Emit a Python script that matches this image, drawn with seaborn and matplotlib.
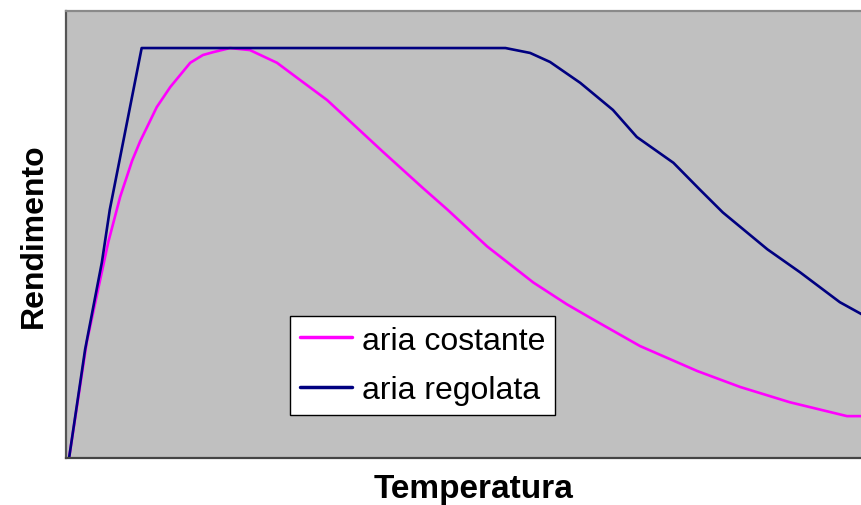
import pandas as pd
import seaborn as sns
import matplotlib.pyplot as plt

# curve values (temperature 0-100, efficiency with plateau = 100)
temp_costante = [0.4, 2.6, 5.3, 6.8, 8.3, 9.3, 11.4, 13.1, 15.6, 17.2, 18.5, 20.6, 23.1,
                 26.5, 29.4, 32.8, 37.8, 39.8, 44.8, 47.9, 52.9, 58.7, 62.9, 66.2, 72.1,
                 79.3, 84.7, 90.9, 98.1, 100]
rend_costante = [0.2, 28.2, 52.6, 63.7, 72.5, 77.2, 85.6, 90.5, 96.4, 98.3, 99.0, 100, 99.5,
                 96.4, 92.2, 87.3, 78.3, 74.7, 65.9, 60.6, 51.6, 42.8, 37.5, 33.8, 27.3,
                 21.2, 17.3, 13.6, 10.2, 10.2]

temp_regolata = [0.4, 2.4, 4.5, 5.5, 7.4, 9.5, 55.2, 58.3, 60.8, 64.6, 68.7, 71.7,
                 76.3, 79.6, 82.5, 88.1, 92.2, 97.2, 100]
rend_regolata = [0.2, 26.5, 47.7, 60.6, 79.3, 100, 100, 98.8, 96.6, 91.5, 84.9, 78.3,
                 72.0, 65.5, 59.9, 50.9, 45.3, 38.0, 35.0]

labels = ["aria costante", "aria regolata"]
colors = ["#ff00ff", "#000080"]

df = pd.concat([
    pd.DataFrame({"Temperatura": temp_costante, "Rendimento": rend_costante, "serie": labels[0]}),
    pd.DataFrame({"Temperatura": temp_regolata, "Rendimento": rend_regolata, "serie": labels[1]}),
])

sns.set_theme(style="white")
plt.rcParams["font.family"] = ["Liberation Sans", "DejaVu Sans"]

fig = plt.figure(figsize=(8.62, 5.06), dpi=100)
# plot area runs a little past the right edge of the picture (cropped chart)
ax = fig.add_axes([0.0766, 0.093, 0.9466, 0.883])
ax.set_facecolor("#c0c0c0")

sns.lineplot(data=df, x="Temperatura", y="Rendimento", hue="serie",
             palette=dict(zip(labels, colors)), linewidth=1.9, ax=ax)

ax.set_xlim(0, 102.5)
ax.set_ylim(0, 109)
ax.set_xticks([])
ax.set_yticks([])
ax.set_xlabel("Temperatura", fontsize=24, fontweight="bold", labelpad=11, color="black")
ax.set_ylabel("Rendimento", fontsize=23, fontweight="bold", labelpad=12, color="black")

ax.spines["right"].set_visible(False)
ax.spines["top"].set_color("#8a8a8a")
ax.spines["left"].set_color("#555555")
ax.spines["bottom"].set_color("#444444")
for s in ["top", "left", "bottom"]:
    ax.spines[s].set_linewidth(1.6)

leg = ax.legend(title=None, loc="lower left", bbox_to_anchor=(0.2745, 0.096),
                fontsize=23, frameon=True, fancybox=False, framealpha=1,
                handlelength=1.65, handletextpad=0.3, borderpad=0.3, labelspacing=0.62,
                borderaxespad=0)
leg.get_frame().set_edgecolor("black")
leg.get_frame().set_linewidth(1.0)
for h in leg.get_lines():
    h.set_linewidth(2.5)
for t in leg.get_texts():
    t.set_color("black")

fig.savefig("out.png", dpi=100)
